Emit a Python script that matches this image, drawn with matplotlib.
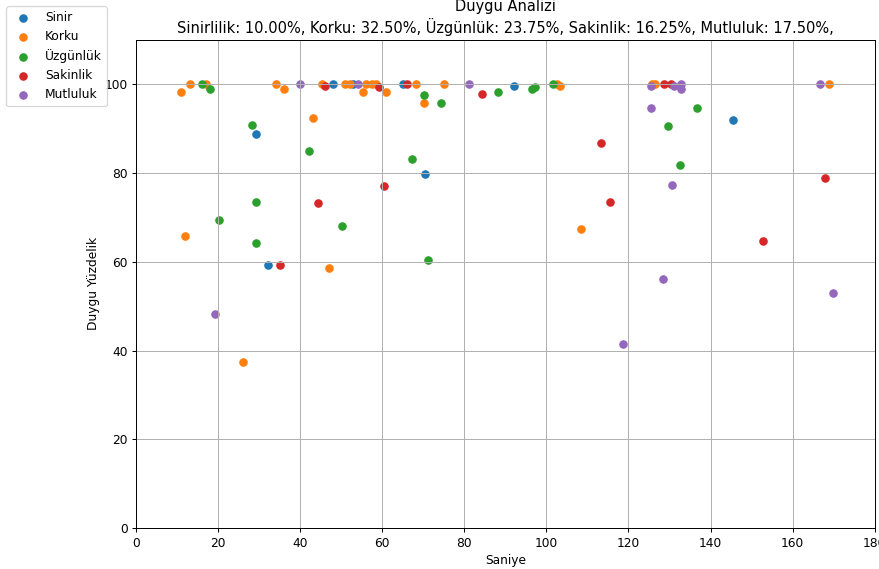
import matplotlib
matplotlib.use("Agg")
import matplotlib.pyplot as plt

labels = ["Sinir", "Korku", "Üzgünlük", "Sakinlik", "Mutluluk"]

sinir_x = [29.3, 32, 48, 52.8, 65, 70.5, 92, 145.6]
sinir_y = [88.7, 59.3, 100, 100, 100, 79.7, 99.6, 92]

korku_x = [11, 12, 13, 17, 26.1, 34, 36, 43.2, 45.4, 47.1, 51, 52, 55.4, 56,
           57.5, 58.5, 61, 68.3, 70.2, 75, 102.6, 103.4, 108.5, 125.8, 126.5, 168.8]
korku_y = [98.2, 65.9, 100, 100, 37.3, 100, 98.9, 92.3, 100, 58.7, 100, 100, 98.2, 100,
           100, 100, 98.2, 100, 95.7, 100, 100, 99.5, 67.3, 100, 100, 100]

uzgun_x = [16, 18, 20.2, 28.3, 29.3, 29.3, 42.2, 50.2, 67.3, 70.2, 71.2, 74.4,
           88.3, 96.5, 97.3, 101.5, 129.7, 132.5, 136.6]
uzgun_y = [100, 98.9, 69.5, 90.7, 73.4, 64.3, 85, 68.1, 83.1, 97.5, 60.5, 95.7,
           98.2, 98.9, 99.3, 100, 90.5, 81.7, 94.6]

sakin_x = [35.1, 44.2, 46, 59.3, 60.5, 66, 84.3, 113.4, 115.6, 128.6, 130.3, 152.7, 167.8]
sakin_y = [59.3, 73.3, 99.5, 99.3, 77, 100, 97.7, 86.7, 73.4, 100, 100, 64.6, 78.8]

mutlu_x = [19.3, 40, 54, 81, 118.6, 125.4, 125.6, 128.5, 130.7, 131, 132.7, 132.7, 166.6, 169.8]
mutlu_y = [48.3, 100, 100, 100, 41.5, 99.6, 94.6, 56, 77.4, 99.6, 100, 99, 100, 53]

percents = [10.00, 32.50, 23.75, 16.25, 17.50]
title_names = ["Sinirlilik", "Korku", "Üzgünlük", "Sakinlik", "Mutluluk"]

# drawn at a 10in-wide size and scaled down to 879 px
DPI = 87.9
fig = plt.figure(figsize=(10, 569 / DPI), dpi=DPI)
ax = fig.add_axes([0.155, 0.072, 0.84, 0.858])

series = [(sinir_x, sinir_y), (korku_x, korku_y), (uzgun_x, uzgun_y),
          (sakin_x, sakin_y), (mutlu_x, mutlu_y)]
for (xs, ys), lab in zip(series, labels):
    ax.scatter(xs, ys, label=lab)

ax.set_xlim(0, 180)
ax.set_ylim(0, 110)
ax.set_yticks([0, 20, 40, 60, 80, 100])
ax.grid(True)
ax.set_xlabel("Saniye")
ax.set_ylabel("Duygu Yüzdelik")

summary = "".join(f"{n}: {p:.2f}%, " for n, p in zip(title_names, percents)).rstrip()
ax.set_title("Duygu Analizi\n" + summary)

fig.legend(loc="upper left", bbox_to_anchor=(0, 1))

fig.savefig("out.png", dpi=DPI)
